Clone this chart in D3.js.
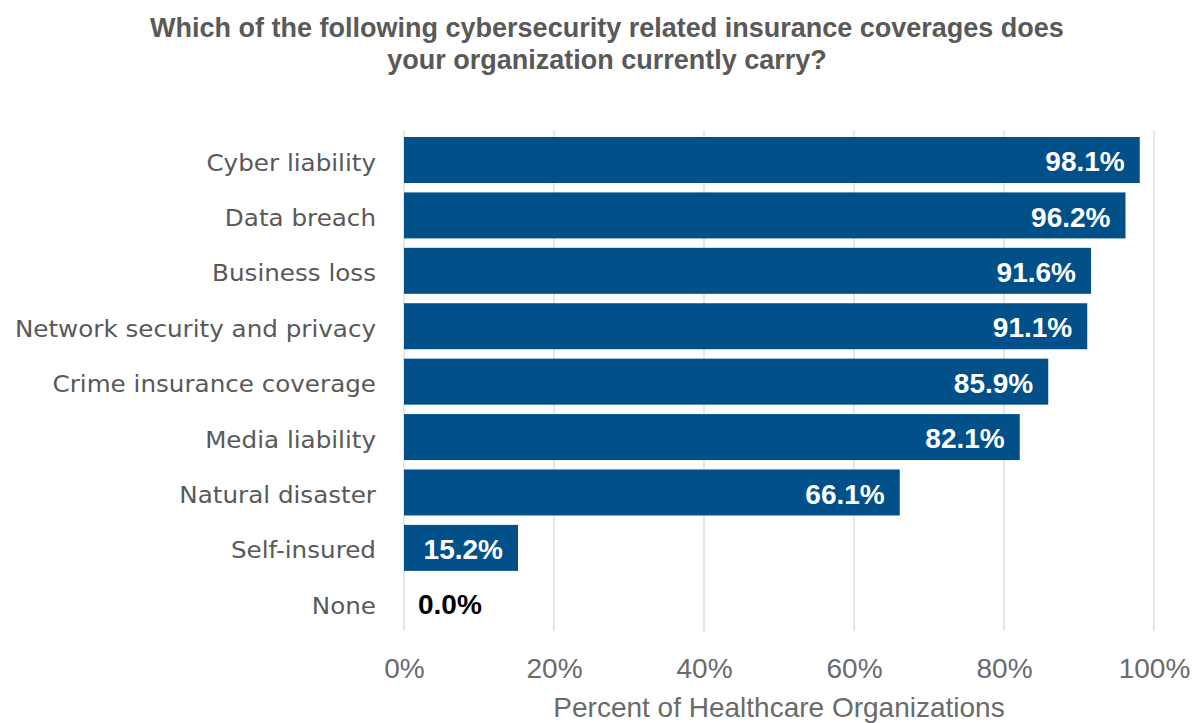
<!DOCTYPE html>
<html>
<head>
<meta charset="utf-8">
<script src="https://cdn.jsdelivr.net/npm/d3@7"></script>
<style>
  html, body { margin: 0; padding: 0; background: #ffffff; }
  svg { display: block; }
</style>
</head>
<body>
<svg id="chart" width="1193" height="723"></svg>
<script>
// Survey answers, top to bottom
const categories = [
  "Cyber liability",
  "Data breach",
  "Business loss",
  "Network security and privacy",
  "Crime insurance coverage",
  "Media liability",
  "Natural disaster",
  "Self-insured",
  "None"
];
const values = [98.1, 96.2, 91.6, 91.1, 85.9, 82.1, 66.1, 15.2, 0.0];
const tickValues = [0, 20, 40, 60, 80, 100];
const titleLines = [
  "Which of the following cybersecurity related insurance coverages does",
  "your organization currently carry?"
];
const axisTitle = "Percent of Healthcare Organizations";

const plot = { left: 404, right: 1154, top: 132.3, bottom: 631 };
const barColor = "#02508a";
const textGray = "#595959";
const sans = "'Liberation Sans', Arial, sans-serif";
const wide = "'DejaVu Sans', Verdana, sans-serif";

const svg = d3.select("#chart");

// Stretch or squeeze text horizontally by a factor of its natural width
function fitWidth(sel, f) {
  sel.each(function () {
    const w = this.getComputedTextLength();
    this.setAttribute("textLength", w * f);
    this.setAttribute("lengthAdjust", "spacingAndGlyphs");
  });
}

const x = d3.scaleLinear().domain([0, 100]).range([plot.left, plot.right]);
const y = d3.scaleBand()
  .domain(categories)
  .range([plot.top, plot.bottom])
  .paddingInner(0.17)
  .paddingOuter(0.085);

// Title
svg.append("g")
  .selectAll("text")
  .data(titleLines)
  .join("text")
  .attr("x", 607)
  .attr("y", (d, i) => 37 + i * 32)
  .attr("text-anchor", "middle")
  .attr("font-family", sans)
  .attr("font-weight", "bold")
  .attr("font-size", 27)
  .attr("fill", textGray)
  .text(d => d);

// Vertical gridlines
svg.append("g")
  .selectAll("line")
  .data(tickValues)
  .join("line")
  .attr("x1", d => x(d))
  .attr("x2", d => x(d))
  .attr("y1", plot.top - 2)
  .attr("y2", plot.bottom)
  .attr("stroke", "#d9d9d9")
  .attr("stroke-width", 1.3);

// Bars
svg.append("g")
  .selectAll("rect")
  .data(categories)
  .join("rect")
  .attr("x", x(0))
  .attr("y", d => y(d))
  .attr("width", (d, i) => x(values[i]) - x(0))
  .attr("height", y.bandwidth())
  .attr("fill", barColor);

// Value labels: inside the bar end, or just past it when the bar is too short
svg.append("g")
  .selectAll("text")
  .data(categories)
  .join("text")
  .attr("font-family", sans)
  .attr("font-weight", "bold")
  .attr("font-size", 28)
  .attr("y", d => y(d) + y.bandwidth() / 2)
  .attr("dy", "0.4em")
  .text((d, i) => values[i].toFixed(1) + "%")
  .each(function (d, i) {
    const v = values[i];
    const inside = x(v) - x(0) > 80;
    d3.select(this)
      .attr("x", inside ? x(v) - 15 : x(v) + 14)
      .attr("text-anchor", inside ? "end" : "start")
      .attr("fill", inside ? "#ffffff" : "#000000");
  });

// Category axis labels
const catLabels = svg.append("g")
  .selectAll("text")
  .data(categories)
  .join("text")
  .attr("x", plot.left - 28)
  .attr("y", d => y(d) + y.bandwidth() / 2)
  .attr("dy", "0.46em")
  .attr("text-anchor", "end")
  .attr("font-family", wide)
  .attr("font-size", 23)
  .attr("fill", textGray)
  .text(d => d);
fitWidth(catLabels, 1.07);

// Bottom axis tick labels
const xAxis = d3.axisBottom(x)
  .tickValues(tickValues)
  .tickFormat(d => d + "%")
  .tickSize(0)
  .tickPadding(27);
const gx = svg.append("g")
  .attr("transform", `translate(0,${plot.bottom})`)
  .call(xAxis);
gx.select(".domain").remove();
gx.selectAll("text")
  .attr("font-family", sans)
  .attr("font-size", 28)
  .attr("fill", "#6a6a6a");

// Axis title
svg.append("text")
  .attr("x", (plot.left + plot.right) / 2)
  .attr("y", 717)
  .attr("text-anchor", "middle")
  .attr("font-family", sans)
  .attr("font-size", 28)
  .attr("fill", "#6a6a6a")
  .text(axisTitle);
</script>
</body>
</html>
